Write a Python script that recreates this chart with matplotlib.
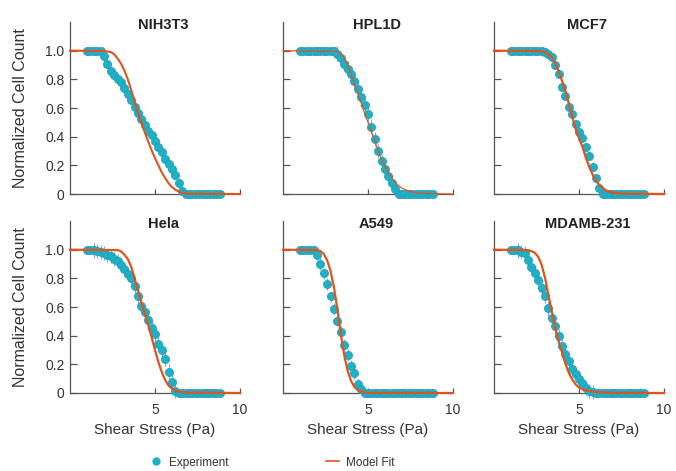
import numpy as np
import matplotlib.pyplot as plt
from matplotlib.lines import Line2D

plt.rcParams['font.family'] = ['Liberation Sans', 'DejaVu Sans']

# shear stress steps applied in every experiment (Pa)
stress = [1.0, 1.2, 1.4, 1.6, 1.8, 2.0, 2.2, 2.4, 2.6, 2.8,
          3.0, 3.2, 3.4, 3.6, 3.8, 4.0, 4.2, 4.4, 4.6, 4.8,
          5.0, 5.2, 5.4, 5.6, 5.8, 6.0, 6.2, 6.4, 6.6, 6.8,
          7.0, 7.2, 7.4, 7.6, 7.8, 8.0, 8.2, 8.4, 8.6, 8.8]

cell_lines = ['NIH3T3', 'HPL1D', 'MCF7', 'Hela', 'A549', 'MDAMB-231']

# normalized cell counts, one list per cell line (same order as stress)
count_nih3t3 = [1.0, 1.0, 1.0, 1.0, 1.0, 0.96, 0.91, 0.86, 0.83, 0.805,
                0.78, 0.74, 0.695, 0.655, 0.61, 0.565, 0.525, 0.48, 0.44, 0.41,
                0.37, 0.33, 0.29, 0.245, 0.21, 0.175, 0.13, 0.08, 0.02, 0.0,
                0, 0, 0, 0, 0, 0, 0, 0, 0, 0]
count_hpl1d = [1.0, 1.0, 1.0, 1.0, 1.0, 1.0, 1.0, 1.0, 1.0, 1.0,
               1.0, 0.98, 0.95, 0.91, 0.875, 0.84, 0.79, 0.73, 0.675, 0.62,
               0.555, 0.47, 0.385, 0.30, 0.23, 0.175, 0.125, 0.08, 0.035, 0.0,
               0, 0, 0, 0, 0, 0, 0, 0, 0, 0]
count_mcf7 = [1.0, 1.0, 1.0, 1.0, 1.0, 1.0, 1.0, 1.0, 1.0, 0.995,
              0.99, 0.975, 0.955, 0.90, 0.84, 0.745, 0.685, 0.61, 0.555, 0.485,
              0.435, 0.39, 0.325, 0.265, 0.19, 0.11, 0.04, 0.0, 0, 0,
              0, 0, 0, 0, 0, 0, 0, 0, 0, 0]
count_hela = [1.0, 1.0, 0.995, 0.99, 0.985, 0.975, 0.965, 0.955, 0.935, 0.92,
              0.895, 0.865, 0.83, 0.80, 0.745, 0.675, 0.61, 0.565, 0.51, 0.455,
              0.41, 0.34, 0.30, 0.24, 0.15, 0.08, 0.015, 0.0, 0, 0,
              0, 0, 0, 0, 0, 0, 0, 0, 0, 0]
count_a549 = [1.0, 1.0, 1.0, 1.0, 0.995, 0.965, 0.90, 0.835, 0.76, 0.675,
              0.585, 0.505, 0.425, 0.335, 0.265, 0.19, 0.14, 0.06, 0.025, 0.0,
              0, 0, 0, 0, 0, 0, 0, 0, 0, 0,
              0, 0, 0, 0, 0, 0, 0, 0, 0, 0]
count_mdamb231 = [1.0, 1.0, 0.995, 0.985, 0.975, 0.925, 0.88, 0.84, 0.79, 0.735,
                  0.675, 0.59, 0.525, 0.465, 0.40, 0.33, 0.275, 0.22, 0.17, 0.13,
                  0.10, 0.07, 0.035, 0.015, 0.005, 0.0, 0, 0, 0, 0,
                  0, 0, 0, 0, 0, 0, 0, 0, 0, 0]

# error bar half-widths per cell line (stress, count)
stress_err = [0.15, 0.25, 0.15, 0.25, 0.2, 0.25]
count_err = [0.03, 0.05, 0.03, 0.05, 0.04, 0.05]

# model fit curves
fit_x_nih3t3 = [0, 2.0, 2.4, 2.6, 2.8, 3.0, 3.2, 3.4, 3.6, 3.8, 4.0, 4.2, 4.4, 4.6,
                4.8, 5.0, 5.2, 5.4, 5.6, 5.8, 6.0, 6.2, 6.4, 6.6, 7.0, 10]
fit_y_nih3t3 = [1.0, 0.998, 0.99, 0.975, 0.945, 0.91, 0.86, 0.80, 0.725, 0.645, 0.57,
                0.495, 0.43, 0.366, 0.305, 0.25, 0.20, 0.15, 0.11, 0.075, 0.048,
                0.03, 0.016, 0.008, 0.002, 0.0]
fit_x_hpl1d = [0, 3.0, 3.2, 3.4, 3.6, 3.8, 4.0, 4.2, 4.4, 4.6, 4.8, 5.0, 5.2, 5.4,
               5.6, 5.8, 6.0, 6.2, 6.4, 6.6, 6.8, 7.0, 7.4, 7.8, 8.4, 10]
fit_y_hpl1d = [1.0, 0.995, 0.99, 0.975, 0.95, 0.905, 0.84, 0.77, 0.70, 0.635, 0.565,
               0.50, 0.435, 0.37, 0.30, 0.24, 0.19, 0.15, 0.11, 0.08, 0.058, 0.04,
               0.02, 0.01, 0.003, 0.0]
fit_x_mcf7 = [0, 2.6, 3.0, 3.2, 3.4, 3.6, 3.8, 4.0, 4.2, 4.4, 4.6, 4.8, 5.0, 5.2,
              5.4, 5.6, 5.8, 6.0, 6.2, 6.4, 6.6, 7.0, 7.6, 10]
fit_y_mcf7 = [1.0, 0.997, 0.99, 0.978, 0.955, 0.915, 0.855, 0.79, 0.72, 0.63, 0.54,
              0.455, 0.39, 0.33, 0.255, 0.19, 0.135, 0.095, 0.062, 0.04, 0.025,
              0.009, 0.002, 0.0]
fit_x_hela = [0, 2.8, 3.0, 3.2, 3.4, 3.6, 3.8, 4.0, 4.2, 4.4, 4.6, 4.8, 5.0, 5.2,
              5.4, 5.6, 5.8, 6.0, 6.2, 6.4, 6.8, 10]
fit_y_hela = [1.0, 0.997, 0.988, 0.965, 0.935, 0.88, 0.80, 0.715, 0.63, 0.555, 0.475,
              0.39, 0.30, 0.215, 0.145, 0.09, 0.052, 0.03, 0.017, 0.01, 0.003, 0.0]
fit_x_a549 = [0, 2.0, 2.2, 2.4, 2.6, 2.8, 3.0, 3.2, 3.4, 3.6, 3.8, 4.0, 4.2, 4.4,
              4.6, 5.0, 10]
fit_y_a549 = [1.0, 0.997, 0.99, 0.97, 0.925, 0.85, 0.735, 0.585, 0.41, 0.265, 0.155,
              0.085, 0.042, 0.02, 0.008, 0.001, 0.0]
fit_x_mdamb231 = [0, 2.0, 2.2, 2.4, 2.6, 2.8, 3.0, 3.2, 3.4, 3.6, 3.8, 4.0, 4.2, 4.4,
                  4.6, 4.8, 5.0, 5.4, 6.0, 7.0, 10]
fit_y_mdamb231 = [1.0, 0.997, 0.99, 0.978, 0.95, 0.895, 0.805, 0.685, 0.57, 0.455,
                  0.36, 0.285, 0.205, 0.14, 0.095, 0.06, 0.038, 0.018, 0.007, 0.001, 0.0]

counts = [count_nih3t3, count_hpl1d, count_mcf7, count_hela, count_a549, count_mdamb231]
fits = [(fit_x_nih3t3, fit_y_nih3t3), (fit_x_hpl1d, fit_y_hpl1d), (fit_x_mcf7, fit_y_mcf7),
        (fit_x_hela, fit_y_hela), (fit_x_a549, fit_y_a549), (fit_x_mdamb231, fit_y_mdamb231)]
fit_width = [1.5, 0.9, 1.6, 1.6, 1.6, 1.6]

teal = '#1bb3c2'
err_blue = '#3a8ad8'
orange = '#e0541c'
grey = '#333333'

fig = plt.figure(figsize=(6.76, 4.71), dpi=100)

lefts = [70, 283, 494]
tops = [22, 221]
w, h = 170, 172

for k, name in enumerate(cell_lines):
    row, col = divmod(k, 3)
    ax = fig.add_axes([lefts[col] / 676, 1 - (tops[row] + h) / 471, w / 676, h / 471])

    x = np.array(stress)
    y = np.array(counts[k])
    inside = (y > 0) & (y < 1)
    xe = np.where(inside, stress_err[k], 0)
    ye = np.where(inside, count_err[k], 0)
    ax.errorbar(x, y, xerr=xe, yerr=ye, fmt='none', ecolor=err_blue,
                elinewidth=0.8, alpha=0.7, clip_on=False, zorder=2)
    ax.plot(x, y, 'o', ms=5.8, mfc=teal, mec='#2c9cc4', mew=0.6,
            clip_on=False, zorder=3)
    fx, fy = fits[k]
    ax.plot(fx, fy, color=orange, lw=fit_width[k], clip_on=False, zorder=4)

    ax.set_xlim(0, 10)
    ax.set_ylim(0, 1.2)
    for s in ['top', 'right']:
        ax.spines[s].set_visible(False)
    for s in ['left', 'bottom']:
        ax.spines[s].set_color('#555555')
        ax.spines[s].set_linewidth(0.9)

    ax.set_yticks([0, 0.2, 0.4, 0.6, 0.8, 1.0])
    ax.set_xticks([5, 10])
    ax.tick_params(axis='y', direction='in', length=5, width=0.9, color='#555555',
                   labelsize=10, labelcolor=grey, pad=4)
    ax.tick_params(axis='x', direction='in', length=3.5, width=0.9, color='#555555',
                   labelsize=10, labelcolor=grey, pad=7.5)
    if col == 0:
        ax.set_yticklabels(['0', '0.2', '0.4', '0.6', '0.8', '1.0'])
        ax.set_ylabel('Normalized Cell Count', fontsize=11.5, color=grey, labelpad=12)
    else:
        ax.set_yticklabels([])
    if row == 1:
        ax.set_xticklabels(['5', '10'])
        ax.set_xlabel('Shear Stress (Pa)', fontsize=11, color=grey, labelpad=4)
    else:
        ax.set_xticklabels([])

    ax.text(0.55, 0.985, name, transform=ax.transAxes, ha='center', va='center',
            fontsize=10.5, fontweight='bold', color='#222222')

handles = [Line2D([], [], marker='o', ls='none', ms=5, mfc=teal, mec=teal),
           Line2D([], [], color=orange, lw=1.2)]
fig.legend(handles, ['Experiment', 'Model Fit'], loc='center', ncol=2,
           bbox_to_anchor=(0.402, 0.018), frameon=False, fontsize=8.5,
           handlelength=1.1, handletextpad=0.6, columnspacing=8.2,
           labelcolor=grey)

fig.savefig('out.png', dpi=100)
